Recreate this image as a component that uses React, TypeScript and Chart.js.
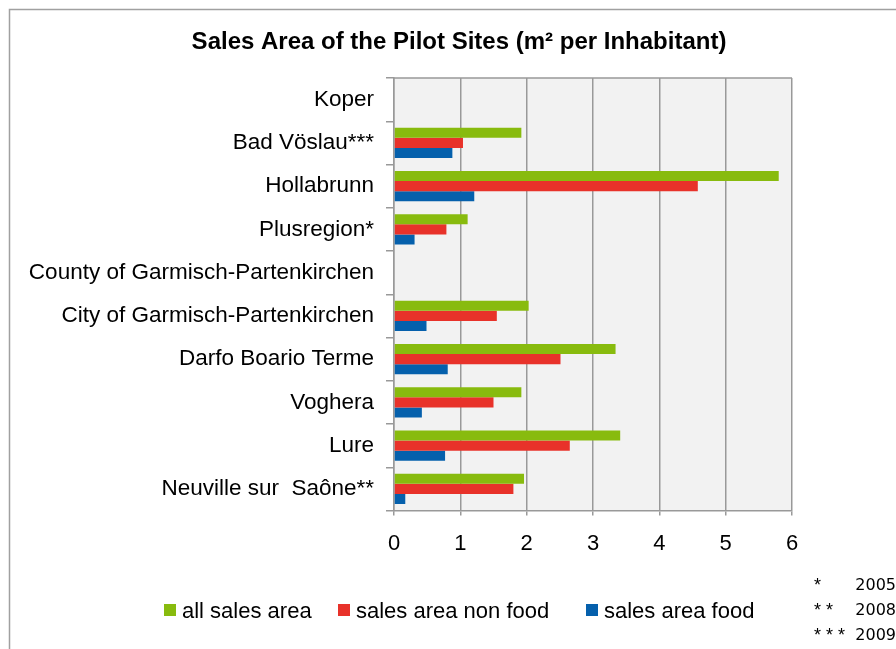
import React, { useEffect, useRef } from "react";
import { Chart, registerables } from "chart.js";

Chart.register(...registerables);

const categories = [
  "Koper",
  "Bad Vöslau***",
  "Hollabrunn",
  "Plusregion*",
  "County of Garmisch-Partenkirchen",
  "City of Garmisch-Partenkirchen",
  "Darfo Boario Terme",
  "Voghera",
  "Lure",
  "Neuville sur  Saône**",
];

const allSalesArea = [null, 1.92, 5.8, 1.11, null, 2.03, 3.34, 1.92, 3.41, 1.96];
const salesAreaNonFood = [null, 1.04, 4.58, 0.79, null, 1.55, 2.51, 1.5, 2.65, 1.8];
const salesAreaFood = [null, 0.88, 1.21, 0.31, null, 0.49, 0.81, 0.42, 0.77, 0.17];

const seriesLabels = ["all sales area", "sales area non food", "sales area food"];
const seriesColors = ["#88bb0e", "#e8322a", "#0560ac"];

const xTicks = [0, 1, 2, 3, 4, 5, 6];

const titleText = "Sales Area of the Pilot Sites (m² per Inhabitant)";
const footStars = ["*", "* *", "* * *"];
const footYears = ["2005", "2008", "2009"];

const FONT = "'Liberation Sans', Arial, sans-serif";

const decorPlugin = {
  id: "decor",
  beforeDraw(chart: any) {
    const { ctx, chartArea } = chart;
    ctx.save();
    ctx.fillStyle = "#ffffff";
    ctx.fillRect(0, 0, chart.width, chart.height);
    // outer frame
    ctx.strokeStyle = "#a0a0a0";
    ctx.lineWidth = 1.5;
    ctx.beginPath();
    ctx.moveTo(9.5, chart.height);
    ctx.lineTo(9.5, 9.5);
    ctx.lineTo(chart.width, 9.5);
    ctx.stroke();
    // plot background
    ctx.fillStyle = "#f2f2f2";
    ctx.fillRect(chartArea.left, chartArea.top, chartArea.right - chartArea.left, chartArea.bottom - chartArea.top);
    // plot top border
    ctx.strokeStyle = "#999999";
    ctx.lineWidth = 1.5;
    ctx.beginPath();
    ctx.moveTo(chartArea.left, chartArea.top);
    ctx.lineTo(chartArea.right, chartArea.top);
    ctx.stroke();
    ctx.restore();
  },
  afterDraw(chart: any) {
    const { ctx } = chart;
    ctx.save();
    // title
    ctx.fillStyle = "#000000";
    ctx.font = `bold 24px ${FONT}`;
    ctx.textAlign = "center";
    ctx.textBaseline = "alphabetic";
    ctx.fillText(titleText, 459, 49);
    // legend
    const legendX = [164, 338, 586];
    ctx.font = `22px ${FONT}`;
    ctx.textAlign = "left";
    chart.data.datasets.forEach((ds: any, i: number) => {
      ctx.fillStyle = ds.backgroundColor;
      ctx.fillRect(legendX[i], 604, 12, 12);
      ctx.fillStyle = "#000000";
      ctx.fillText(ds.label, legendX[i] + 18, 618);
    });
    // footnotes
    const baselines = [590, 615, 640];
    footStars.forEach((s, i) => {
      ctx.font = `18px ${FONT}`;
      ctx.textAlign = "left";
      ctx.fillText(s, 814, baselines[i] + 1);
      ctx.font = `16px 'DejaVu Sans', sans-serif`;
      ctx.textAlign = "right";
      ctx.fillText(footYears[i], 896, baselines[i]);
    });
    ctx.restore();
  },
};

export default function App() {
  const canvasRef = useRef<HTMLCanvasElement | null>(null);

  useEffect(() => {
    if (!canvasRef.current) return;
    const chart = new Chart(canvasRef.current, {
      type: "bar",
      data: {
        labels: categories,
        datasets: [
          { label: seriesLabels[0], data: allSalesArea, backgroundColor: seriesColors[0] },
          { label: seriesLabels[1], data: salesAreaNonFood, backgroundColor: seriesColors[1] },
          { label: seriesLabels[2], data: salesAreaFood, backgroundColor: seriesColors[2] },
        ],
      },
      options: {
        indexAxis: "y",
        responsive: false,
        animation: false,
        devicePixelRatio: 1,
        datasets: {
          bar: { categoryPercentage: 0.7, barPercentage: 1.0 },
        },
        layout: { padding: { top: 78, right: 104, left: 0, bottom: 88.5 } },
        plugins: {
          legend: { display: false },
          title: { display: false },
          tooltip: { enabled: false },
        },
        scales: {
          x: {
            type: "linear",
            min: 0,
            max: 6,
            afterBuildTicks(scale: any) {
              scale.ticks = xTicks.map((v) => ({ value: v }));
            },
            afterFit(scale: any) {
              scale.height = 50;
            },
            grid: {
              color: "#999999",
              lineWidth: 1.5,
              tickLength: 5,
              drawTicks: true,
            },
            border: { color: "#999999", width: 1.5 },
            ticks: {
              color: "#000000",
              font: { family: FONT, size: 22 },
              padding: 15,
            },
          },
          y: {
            type: "category",
            afterFit(scale: any) {
              scale.width = 394;
            },
            grid: {
              drawOnChartArea: false,
              color: "#999999",
              lineWidth: 1.5,
              tickLength: 8,
              offset: true,
            },
            border: { color: "#999999", width: 1.5 },
            ticks: {
              color: "#000000",
              font: { family: FONT, size: 22.5 },
              padding: 12,
            },
          },
        },
      },
      plugins: [decorPlugin],
    } as any);
    return () => chart.destroy();
  }, []);

  return (
    <div style={{ position: "absolute", left: 0, top: 0, width: 896, height: 649 }}>
      <canvas ref={canvasRef} width={896} height={649} style={{ display: "block", width: 896, height: 649 }} />
    </div>
  );
}
